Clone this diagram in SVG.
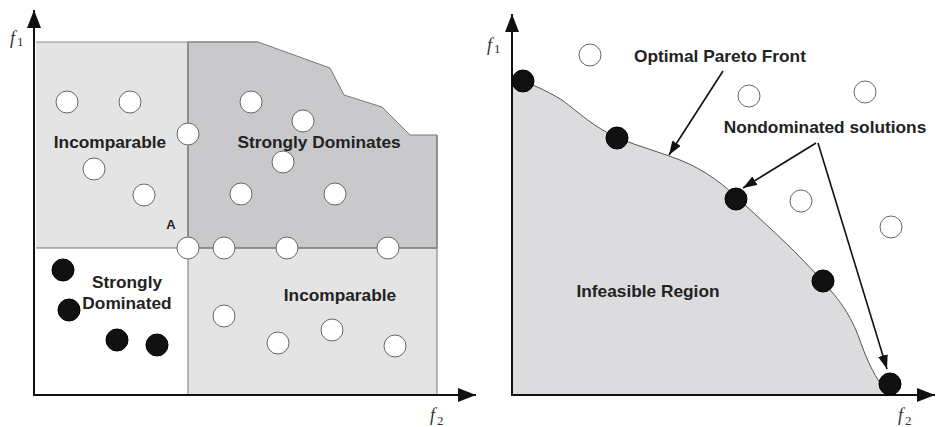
<svg xmlns="http://www.w3.org/2000/svg" width="936" height="427" viewBox="0 0 936 427">
<style>
.lbl{font-family:"Liberation Sans",Arial,sans-serif;font-weight:bold;font-size:17.3px;fill:#222}
.ax{stroke:#111;stroke-width:2;fill:none}
.fl{font-family:"Liberation Serif","Times New Roman",serif;font-style:italic;font-size:18px;fill:#333}
.sub{font-family:"Liberation Serif","Times New Roman",serif;font-size:13px;fill:#333}
.wc{fill:#fff;stroke:#666;stroke-width:1}
.bc{fill:#111;stroke:#000;stroke-width:1}
.ln{stroke:#111;stroke-width:1.6;fill:none}
</style>
<defs>
<marker id="ah" markerUnits="userSpaceOnUse" markerWidth="16" markerHeight="12" refX="14" refY="5" orient="auto">
<path d="M0,0 L14,5 L0,10 Z" fill="#111"/>
</marker>
<marker id="axh" markerUnits="userSpaceOnUse" markerWidth="20" markerHeight="16" refX="18" refY="7" orient="auto">
<path d="M0,0 L18,7 L0,14 Z" fill="#111"/>
</marker>
</defs>
<rect width="936" height="427" fill="#fff"/>

<g id="left-regions">
<rect x="36" y="42" width="152" height="206" fill="#e4e4e4"/>
<rect x="188" y="248" width="249" height="147" fill="#e4e4e4"/>
<path d="M188,42 L258,42 L330,68 L344,95 L382,107 L410,135 L437,135 L437,248 L188,248 Z" fill="#c9c9cb" stroke="#777" stroke-width="1"/>
<path d="M36,42 L258,42" stroke="#888" stroke-width="1"/>
<path d="M188,42 L188,395 M36,248 L437,248 M437,135 L437,395" stroke="#777" stroke-width="1"/>
</g>

<g id="left-axes">
<path class="ax" d="M34,396 L34,10" marker-end="url(#axh)"/>
<path class="ax" d="M33,395 L476,395" marker-end="url(#axh)"/>
<text class="fl" x="10" y="44">f</text><text class="sub" x="17" y="46">1</text>
<text class="fl" x="430" y="421">f</text><text class="sub" x="437" y="425">2</text>
</g>

<g id="left-labels">
<text class="lbl" x="110" y="148" text-anchor="middle">Incomparable</text>
<text class="lbl" x="319" y="148" text-anchor="middle">Strongly Dominates</text>
<text x="171" y="229" text-anchor="middle" style="font-family:'Liberation Sans',Arial,sans-serif;font-weight:bold;font-size:13px;fill:#222">A</text>
<text class="lbl" x="127" y="288" text-anchor="middle">Strongly</text>
<text class="lbl" x="127" y="309" text-anchor="middle">Dominated</text>
<text class="lbl" x="340" y="301" text-anchor="middle">Incomparable</text>
</g>

<g id="left-points">
<circle class="wc" cx="67" cy="102" r="11"/>
<circle class="wc" cx="130" cy="102" r="11"/>
<circle class="wc" cx="188" cy="134" r="11"/>
<circle class="wc" cx="94" cy="169" r="11"/>
<circle class="wc" cx="144" cy="195" r="11"/>
<circle class="wc" cx="251" cy="102" r="11"/>
<circle class="wc" cx="303" cy="121" r="11"/>
<circle class="wc" cx="283" cy="162" r="11"/>
<circle class="wc" cx="241" cy="194" r="11"/>
<circle class="wc" cx="335" cy="194" r="11"/>
<circle id="pointA" class="wc" cx="188" cy="248" r="11"/>
<circle class="wc" cx="224" cy="248" r="11"/>
<circle class="wc" cx="287" cy="248" r="11"/>
<circle class="wc" cx="388" cy="248" r="11"/>
<circle class="wc" cx="224" cy="316" r="11"/>
<circle class="wc" cx="278" cy="343" r="11"/>
<circle class="wc" cx="332" cy="330" r="11"/>
<circle class="wc" cx="395" cy="346" r="11"/>
<circle class="bc" cx="63" cy="270" r="11"/>
<circle class="bc" cx="69" cy="310" r="11"/>
<circle class="bc" cx="117" cy="340" r="11"/>
<circle class="bc" cx="157" cy="345" r="11"/>
</g>

<g id="right-region">
<path d="M512,395 L512,80 C530,82 545,90 562,100 C578,112 595,128 618,138 C640,147 660,152 680,160 C705,170 725,185 745,205 C770,228 800,255 823,282 C840,300 850,315 858,335 C866,358 875,380 890,395 Z" fill="#dcdcde"/>
<path d="M512,80 C530,82 545,90 562,100 C578,112 595,128 618,138 C640,147 660,152 680,160 C705,170 725,185 745,205 C770,228 800,255 823,282 C840,300 850,315 858,335 C866,358 875,380 890,395" fill="none" stroke="#555" stroke-width="1"/>
</g>

<g id="right-axes">
<path class="ax" d="M512,396 L512,14" marker-end="url(#axh)"/>
<path class="ax" d="M511,395 L935,395" marker-end="url(#axh)"/>
<text class="fl" x="487" y="51">f</text><text class="sub" x="494" y="53">1</text>
<text class="fl" x="898" y="421">f</text><text class="sub" x="905" y="425">2</text>
</g>

<g id="right-labels">
<text class="lbl" x="720" y="62" text-anchor="middle">Optimal Pareto Front</text>
<text class="lbl" x="825" y="133" text-anchor="middle">Nondominated solutions</text>
<text class="lbl" x="648" y="297" text-anchor="middle">Infeasible Region</text>
</g>

<g id="connectors">
<path class="ln" d="M723,71 L669,155" marker-end="url(#ah)"/>
<path class="ln" d="M816,143 L743,188" marker-end="url(#ah)"/>
<path class="ln" d="M818,143 L887,369" marker-end="url(#ah)"/>
</g>

<g id="right-points">
<circle class="wc" cx="590" cy="55" r="11"/>
<circle class="wc" cx="749" cy="96" r="11"/>
<circle class="wc" cx="865" cy="92" r="11"/>
<circle class="wc" cx="801" cy="201" r="11"/>
<circle class="wc" cx="891" cy="227" r="11"/>
<circle class="bc" cx="523" cy="81" r="11"/>
<circle class="bc" cx="617" cy="138" r="11"/>
<circle class="bc" cx="736" cy="199" r="11"/>
<circle class="bc" cx="823" cy="281" r="11"/>
<circle class="bc" cx="890" cy="384" r="11"/>
</g>
</svg>
